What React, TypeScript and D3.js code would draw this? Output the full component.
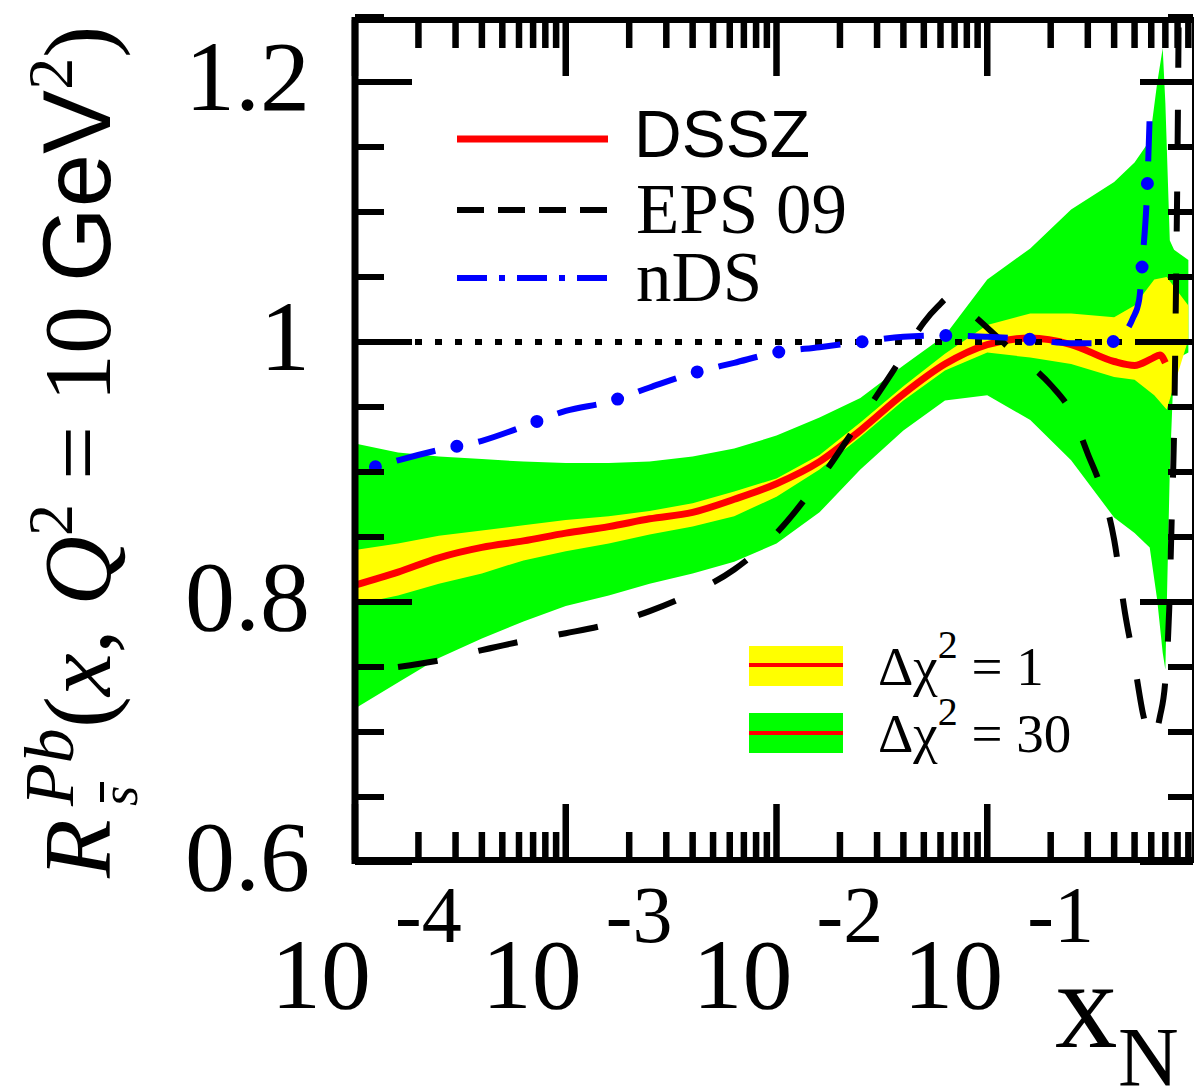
import React from "react";
import * as d3 from "d3";

// DSSZ uncertainty bands (x, upper, lower)
const greenX = [1e-4, 1.6e-4, 2.5e-4, 4e-4, 6.3e-4, 1e-3, 1.6e-3, 2.5e-3, 4e-3, 6.3e-3, 0.01, 0.016, 0.025, 0.04, 0.063, 0.1, 0.16, 0.25, 0.4, 0.5, 0.59, 0.64, 0.68, 0.7, 0.735, 0.77, 0.9];
const greenHi = [0.922, 0.915, 0.912, 0.91, 0.908, 0.907, 0.907, 0.908, 0.912, 0.918, 0.928, 0.942, 0.957, 0.982, 1.005, 1.048, 1.072, 1.102, 1.123, 1.138, 1.155, 1.199, 1.226, 1.184, 1.078, 1.071, 1.063];
const greenLo = [0.718, 0.738, 0.757, 0.772, 0.785, 0.797, 0.805, 0.814, 0.822, 0.831, 0.845, 0.869, 0.902, 0.932, 0.955, 0.959, 0.94, 0.909, 0.865, 0.853, 0.842, 0.802, 0.761, 0.748, 0.902, 0.986, 0.992];

const yellowX = [1e-4, 1.6e-4, 2.5e-4, 4e-4, 6.3e-4, 1e-3, 1.6e-3, 2.5e-3, 4e-3, 6.3e-3, 0.01, 0.016, 0.025, 0.04, 0.063, 0.1, 0.16, 0.25, 0.4, 0.5, 0.62, 0.71, 0.9];
const yellowHi = [0.84, 0.845, 0.851, 0.855, 0.859, 0.863, 0.866, 0.87, 0.876, 0.885, 0.895, 0.913, 0.938, 0.966, 0.991, 1.013, 1.022, 1.022, 1.019, 1.028, 1.048, 1.05, 1.028];
const yellowLo = [0.798, 0.805, 0.814, 0.822, 0.832, 0.839, 0.845, 0.852, 0.858, 0.866, 0.881, 0.902, 0.927, 0.955, 0.978, 0.992, 0.988, 0.983, 0.973, 0.971, 0.959, 0.948, 1.002];

// central curves
const dsszX = [1e-4, 1.6e-4, 2.5e-4, 4e-4, 6.3e-4, 1e-3, 1.6e-3, 2.5e-3, 4e-3, 6.3e-3, 0.01, 0.016, 0.025, 0.04, 0.063, 0.1, 0.16, 0.25, 0.4, 0.5, 0.6, 0.66, 0.7];
const dsszY = [0.813, 0.823, 0.834, 0.842, 0.847, 0.853, 0.858, 0.864, 0.869, 0.879, 0.891, 0.908, 0.932, 0.96, 0.983, 0.998, 1.003, 0.998, 0.985, 0.982, 0.987, 0.99, 0.984];

const epsX = [1.6e-4, 2.5e-4, 4e-4, 6.3e-4, 1e-3, 1.6e-3, 2.5e-3, 4e-3, 6.3e-3, 0.01, 0.016, 0.025, 0.04, 0.05, 0.058, 0.067, 0.08, 0.1, 0.13, 0.16, 0.2, 0.25, 0.3, 0.35, 0.4, 0.45, 0.5, 0.55, 0.6, 0.66, 0.7, 0.73, 0.75, 0.77, 0.785, 0.8, 0.81];
const epsY = [0.75, 0.755, 0.763, 0.77, 0.776, 0.783, 0.793, 0.807, 0.825, 0.853, 0.894, 0.94, 0.99, 1.015, 1.027, 1.035, 1.025, 1.011, 0.994, 0.982, 0.967, 0.946, 0.914, 0.886, 0.848, 0.792, 0.752, 0.713, 0.694, 0.712, 0.74, 0.794, 0.863, 0.932, 1.032, 1.148, 1.255];

const ndsX = [1.25e-4, 1.6e-4, 2.5e-4, 4e-4, 6.3e-4, 1e-3, 1.6e-3, 2.5e-3, 4e-3, 6.3e-3, 0.01, 0.016, 0.025, 0.04, 0.063, 0.1, 0.16, 0.25, 0.35, 0.42, 0.45, 0.49, 0.525, 0.548, 0.573, 0.591];
const ndsY = [0.904, 0.909, 0.917, 0.924, 0.935, 0.947, 0.954, 0.965, 0.976, 0.984, 0.992, 0.996, 1.0, 1.004, 1.005, 1.004, 1.002, 0.999, 0.999, 1.002, 1.007, 1.018, 1.032, 1.067, 1.115, 1.178];

const xDecades = [1e-4, 1e-3, 1e-2, 1e-1];
const xExponents = ["-4", "-3", "-2", "-1"];
const yMajor = [0.6, 0.8, 1.0, 1.2];
const yLabels = ["0.6", "0.8", "1", "1.2"];

const serif = "'Liberation Serif', 'Times New Roman', serif";
const sans = "'Liberation Sans', Arial, sans-serif";

export default function App() {
  const W = 1195;
  const H = 1092;
  const left = 355;
  const right = 1193;
  const top = 20;
  const bottom = 860;

  const x = d3.scaleLog().domain([1e-4, 1]).range([355, 1198]);
  const y = d3.scaleLinear().domain([0.6, 1.25]).range([862, 17]);

  const band = (xs: number[], hi: number[], lo: number[]) =>
    d3
      .area<number>()
      .x((i) => x(xs[i]))
      .y0((i) => y(lo[i]))
      .y1((i) => y(hi[i]))(d3.range(xs.length)) as string;

  const line = (xs: number[], ys: number[]) =>
    d3
      .line<number>()
      .x((i) => x(xs[i]))
      .y((i) => y(ys[i]))
      .curve(d3.curveMonotoneX)(d3.range(xs.length)) as string;

  const xMinor = x.ticks().filter((t) => t < 1);
  const yTicks = y.ticks(13);
  const isMajorY = (t: number) => yMajor.some((m) => Math.abs(m - t) < 1e-6);
  const isMajorX = (t: number) => xDecades.some((m) => Math.abs(m - t) / m < 1e-6);

  const ndsPath = line(ndsX, ndsY);

  return (
    <svg width={W} height={H} style={{ position: "absolute", left: 0, top: 0, background: "#fff" }}>
      <defs>
        <clipPath id="plotClip">
          <rect x={left} y={top} width={right - left} height={bottom - top} />
        </clipPath>
      </defs>

      <g clipPath="url(#plotClip)">
        <path d={band(greenX, greenHi, greenLo)} fill="#00ff00" />
        <path d={band(yellowX, yellowHi, yellowLo)} fill="#ffff00" />
        <path d={line(dsszX, dsszY)} fill="none" stroke="#ff0000" strokeWidth={7} strokeLinejoin="round" />
        <line x1={left} x2={right} y1={y(1)} y2={y(1)} stroke="#000" strokeWidth={6} strokeDasharray="7 13" />
        <path d={line(epsX, epsY)} fill="none" stroke="#000" strokeWidth={6} strokeDasharray="40 42" />
        <path d={ndsPath} fill="none" stroke="#0000ff" strokeWidth={6} strokeDasharray="40 44" strokeDashoffset={-22} />
        <path d={ndsPath} fill="none" stroke="#0000ff" strokeWidth={13} strokeLinecap="round" strokeDasharray="0 84" />
      </g>

      {/* x ticks top and bottom */}
      {xMinor.map((t, i) => {
        const len = isMajorX(t) ? 56 : 28;
        const px = x(t);
        return (
          <g key={"xt" + i} stroke="#000" strokeWidth={6.5}>
            <line x1={px} x2={px} y1={top} y2={top + len} />
            <line x1={px} x2={px} y1={bottom} y2={bottom - len} />
          </g>
        );
      })}

      {/* y ticks left and right */}
      {yTicks.map((t, i) => {
        const major = isMajorY(t);
        const py = y(t);
        return (
          <g key={"yt" + i} stroke="#000" strokeWidth={6}>
            <line x1={left} x2={left + (major ? 57 : 29)} y1={py} y2={py} />
            <line x1={right} x2={right - (major ? 53 : 25)} y1={py} y2={py} />
          </g>
        );
      })}

      {/* frame */}
      <line x1={left} x2={left} y1={17} y2={864} stroke="#000" strokeWidth={7} />
      <line x1={352} x2={right} y1={top} y2={top} stroke="#000" strokeWidth={6} />
      <line x1={352} x2={right} y1={bottom} y2={bottom} stroke="#000" strokeWidth={6} />
      <line x1={right} x2={right} y1={17} y2={863} stroke="#000" strokeWidth={2} />

      {/* y tick labels */}
      {yMajor.map((t, i) => (
        <text key={"yl" + i} x={310} y={y(t) + 28} fontFamily={serif} fontSize={100} textAnchor="end">
          {yLabels[i]}
        </text>
      ))}

      {/* x tick labels */}
      {xDecades.map((t, i) => (
        <g key={"xl" + i} fontFamily={serif}>
          <text x={x(t) + 16} y={1008} fontSize={100} textAnchor="end">10</text>
          <text x={x(t) + 40} y={942} fontSize={80}>{xExponents[i]}</text>
        </g>
      ))}

      {/* x axis title */}
      <text x={1055} y={1047} fontFamily={serif} fontSize={125}>x</text>
      <text x={1118} y={1086} fontFamily={serif} fontSize={84}>N</text>

      {/* y axis title */}
      <g transform="translate(110,878) rotate(-90)" fontFamily={serif}>
        <text x={0} y={0} fontSize={96} fontStyle="italic">R</text>
        <text x={72} y={27} fontSize={52} fontStyle="italic">s</text>
        <line x1={76} x2={96} y1={-8} y2={-8} stroke="#000" strokeWidth={4} />
        <text x={72} y={-37} fontSize={70} fontStyle="italic">Pb</text>
        <text x={150} y={0} fontSize={96} style={{ whiteSpace: "pre" }}>
          {"("}
          <tspan fontStyle="italic">x</tspan>
          {", "}
          <tspan fontStyle="italic">Q</tspan>
          <tspan fontSize={64} dy={-38}>2</tspan>
          <tspan dy={38}>{" = 10 "}</tspan>
          <tspan fontFamily={sans}>GeV</tspan>
          <tspan fontSize={64} dy={-38}>2</tspan>
          <tspan dy={38}>{")"}</tspan>
        </text>
      </g>

      {/* model legend */}
      <line x1={457} x2={608} y1={139} y2={139} stroke="#ff0000" strokeWidth={7} />
      <text x={634} y={157} fontFamily={sans} fontSize={66}>DSSZ</text>
      <line x1={457} x2={608} y1={210} y2={210} stroke="#000" strokeWidth={6} strokeDasharray="27 14" />
      <text x={636} y={233} fontFamily={serif} fontSize={71} style={{ whiteSpace: "pre" }}>EPS 09</text>
      <line x1={457} x2={608} y1={278} y2={278} stroke="#0000ff" strokeWidth={6} strokeDasharray="30 12 6 12" />
      <text x={636} y={301} fontFamily={serif} fontSize={71}>nDS</text>

      {/* band legend */}
      <rect x={749} y={646} width={94} height={40} fill="#ffff00" />
      <line x1={749} x2={843} y1={665} y2={665} stroke="#ff0000" strokeWidth={4} />
      <rect x={749} y={713} width={94} height={40} fill="#00ff00" />
      <line x1={749} x2={843} y1={733} y2={733} stroke="#ff0000" strokeWidth={4} />
      <text x={878} y={685} fontFamily={serif} fontSize={55} style={{ whiteSpace: "pre" }}>
        {"Δχ"}
        <tspan fontSize={40} dy={-27}>2</tspan>
        <tspan dy={27}>{" = 1"}</tspan>
      </text>
      <text x={878} y={752} fontFamily={serif} fontSize={55} style={{ whiteSpace: "pre" }}>
        {"Δχ"}
        <tspan fontSize={40} dy={-27}>2</tspan>
        <tspan dy={27}>{" = 30"}</tspan>
      </text>
    </svg>
  );
}
